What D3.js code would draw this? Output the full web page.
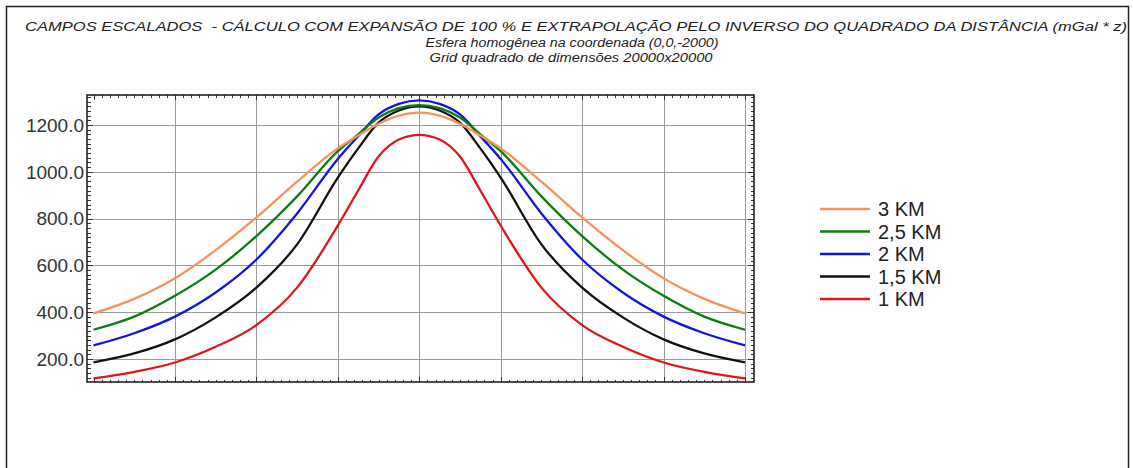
<!DOCTYPE html>
<html>
<head>
<meta charset="utf-8">
<script src="https://cdn.jsdelivr.net/npm/d3@7"></script>
<style>
  body { margin: 0; background: #fff; }
  text { font-family: "Liberation Sans", Arial, sans-serif; }
</style>
</head>
<body>
<div id="chart"></div>
<script>
// distance along the profile (m)
var distances = [-10000, -8750, -7500, -6250, -5000, -3750, -2500, -1875, -1250, -625, 0,
                 625, 1250, 1875, 2500, 3750, 5000, 6250, 7500, 8750, 10000];

// scaled fields (mGal * z)
var field3km  = [395, 457, 545, 665, 805, 958, 1100, 1155, 1205, 1240, 1253, 1240, 1205, 1155, 1100, 958, 805, 665, 545, 457, 395];
var field25km = [325, 381, 470, 582, 725, 895, 1088, 1160, 1232, 1272, 1285, 1272, 1232, 1160, 1088, 895, 725, 582, 470, 381, 325];
var field2km  = [258, 310, 381, 484, 625, 822, 1055, 1152, 1245, 1290, 1305, 1290, 1245, 1152, 1055, 822, 625, 484, 381, 310, 258];
var field15km = [186, 224, 284, 378, 505, 690, 975, 1100, 1210, 1262, 1280, 1262, 1210, 1100, 975, 690, 505, 378, 284, 224, 186];
var field1km  = [117, 145, 185, 252, 345, 505, 770, 920, 1065, 1138, 1158, 1138, 1065, 920, 770, 505, 345, 252, 185, 145, 117];

var seriesNames = ["3 KM", "2,5 KM", "2 KM", "1,5 KM", "1 KM"];
var seriesColors = ["#f4935c", "#0b7d12", "#1414dc", "#111111", "#e2141c"];
var seriesValues = [field3km, field25km, field2km, field15km, field1km];

var yTicks = [200, 400, 600, 800, 1000, 1200];
var xGrid = [-7500, -5000, -2500, 0, 2500, 5000, 7500, 10000];

var titleText = "CAMPOS ESCALADOS  - CÁLCULO COM EXPANSÃO DE 100 % E EXTRAPOLAÇÃO PELO INVERSO DO QUADRADO DA DISTÂNCIA (mGal * z)";
var subTitle1 = "Esfera homogênea na coordenada (0,0,-2000)";
var subTitle2 = "Grid quadrado de dimensões 20000x20000";

var w = 1133;
var h = 468;

var svg = d3.select("#chart")
  .append("svg")
  .attr("width", w)
  .attr("height", h);

// outer frame (runs off the bottom of the picture)
svg.append("rect")
  .attr("x", 6.5).attr("y", 6.5)
  .attr("width", 1122).attr("height", 480)
  .attr("fill", "none")
  .attr("stroke", "#222")
  .attr("stroke-width", 1.5);

// titles
svg.append("text")
  .attr("x", 25).attr("y", 31)
  .attr("textLength", 1102)
  .attr("lengthAdjust", "spacingAndGlyphs")
  .style("white-space", "pre")
  .attr("font-size", 12)
  .attr("font-style", "italic")
  .attr("fill", "#222")
  .text(titleText);

svg.append("text")
  .attr("x", 572).attr("y", 47)
  .attr("text-anchor", "middle")
  .attr("textLength", 293)
  .attr("lengthAdjust", "spacingAndGlyphs")
  .attr("font-size", 12)
  .attr("font-style", "italic")
  .attr("fill", "#222")
  .text(subTitle1);

svg.append("text")
  .attr("x", 571).attr("y", 62)
  .attr("text-anchor", "middle")
  .attr("textLength", 283)
  .attr("lengthAdjust", "spacingAndGlyphs")
  .attr("font-size", 12)
  .attr("font-style", "italic")
  .attr("fill", "#222")
  .text(subTitle2);

// plot area
var plotLeft = 87, plotRight = 754, plotTop = 95, plotBottom = 382;

var x = d3.scaleLinear().domain([-10200, 10276]).range([plotLeft, plotRight]);
var y = d3.scaleLinear().domain([101.7, 1328.2]).range([plotBottom, plotTop]);

// grid
svg.append("g").selectAll("line")
  .data(xGrid)
  .enter()
  .append("line")
  .attr("x1", function(d) { return Math.round(x(d)) + 0.5; })
  .attr("x2", function(d) { return Math.round(x(d)) + 0.5; })
  .attr("y1", plotTop).attr("y2", plotBottom)
  .attr("stroke", "#9a9a9a")
  .attr("stroke-width", 1);

svg.append("g").selectAll("line")
  .data(yTicks)
  .enter()
  .append("line")
  .attr("x1", plotLeft).attr("x2", plotRight)
  .attr("y1", function(d) { return Math.round(y(d)) + 0.5; })
  .attr("y2", function(d) { return Math.round(y(d)) + 0.5; })
  .attr("stroke", "#9a9a9a")
  .attr("stroke-width", 1);

// minor ticks, y every 20 and x every 250
var yMinor = d3.range(120, 1321, 20);
var xMinor = d3.range(-10000, 10251, 250);

var ticks = svg.append("g").attr("stroke", "#333").attr("stroke-width", 1);
ticks.selectAll("line.yl")
  .data(yMinor).enter().append("line")
  .attr("class", "yl")
  .attr("x1", plotLeft).attr("x2", function(d) { return plotLeft + (d % 200 == 0 ? 6 : 4); })
  .attr("y1", function(d) { return Math.round(y(d)) + 0.5; })
  .attr("y2", function(d) { return Math.round(y(d)) + 0.5; });
ticks.selectAll("line.yr")
  .data(yMinor).enter().append("line")
  .attr("class", "yr")
  .attr("x1", plotRight).attr("x2", function(d) { return plotRight - (d % 200 == 0 ? 6 : 3); })
  .attr("y1", function(d) { return Math.round(y(d)) + 0.5; })
  .attr("y2", function(d) { return Math.round(y(d)) + 0.5; });
ticks.selectAll("line.xt")
  .data(xMinor).enter().append("line")
  .attr("class", "xt")
  .attr("x1", function(d) { return Math.round(x(d)) + 0.5; })
  .attr("x2", function(d) { return Math.round(x(d)) + 0.5; })
  .attr("y1", plotTop).attr("y2", function(d) { return plotTop + (d % 2500 == 0 ? 5 : 3); });
ticks.selectAll("line.xb")
  .data(xMinor).enter().append("line")
  .attr("class", "xb")
  .attr("x1", function(d) { return Math.round(x(d)) + 0.5; })
  .attr("x2", function(d) { return Math.round(x(d)) + 0.5; })
  .attr("y1", plotBottom).attr("y2", function(d) { return plotBottom - (d % 2500 == 0 ? 5 : 2); });

// y labels
svg.append("g").selectAll("text")
  .data(yTicks)
  .enter()
  .append("text")
  .attr("x", 84)
  .attr("y", function(d) { return y(d); })
  .attr("dy", "0.36em")
  .attr("text-anchor", "end")
  .attr("font-size", 19)
  .attr("fill", "#333")
  .text(function(d) { return d3.format(".1f")(d); });

// curves
var line = d3.line()
  .x(function(d, i) { return x(distances[i]); })
  .y(function(d) { return y(d); })
  .curve(d3.curveMonotoneX);

// draw red first so the wider curves sit on top like the reference
for (var k = seriesValues.length - 1; k >= 0; k--) {
  svg.append("path")
    .datum(seriesValues[k])
    .attr("d", line)
    .attr("fill", "none")
    .attr("stroke", seriesColors[k])
    .attr("stroke-width", 2.3);
}

// frame
svg.append("rect")
  .attr("x", plotLeft).attr("y", plotTop)
  .attr("width", plotRight - plotLeft).attr("height", plotBottom - plotTop)
  .attr("fill", "none")
  .attr("stroke", "#222")
  .attr("stroke-width", 1.6);

// legend
var legend = svg.append("g").selectAll("g")
  .data(seriesNames)
  .enter()
  .append("g")
  .attr("transform", function(d, i) { return "translate(820," + (209 + i * 22.5) + ")"; });

legend.append("line")
  .attr("x1", 0).attr("x2", 50)
  .attr("stroke", function(d, i) { return seriesColors[i]; })
  .attr("stroke-width", 2.5);

legend.append("text")
  .attr("x", 58)
  .attr("dy", "0.36em")
  .attr("font-size", 20)
  .attr("fill", "#222")
  .text(function(d) { return d; });
</script>
</body>
</html>
